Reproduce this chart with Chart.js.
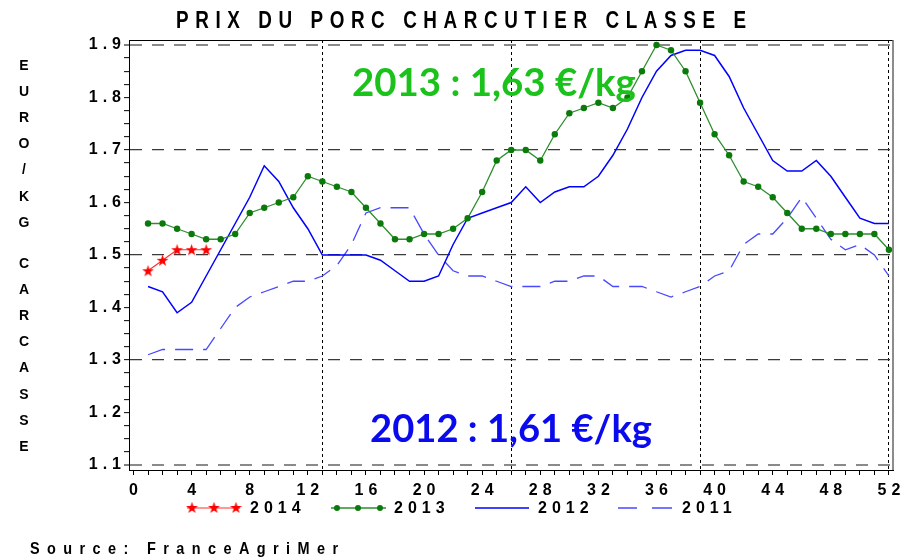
<!DOCTYPE html>
<html><head><meta charset="utf-8">
<script src="https://cdn.jsdelivr.net/npm/chart.js@4/dist/chart.umd.min.js"></script>
<style>html,body{margin:0;padding:0;background:#fff;overflow:hidden}#wrap{position:relative;width:905px;height:560px}</style>
</head><body><div id="wrap"><canvas id="c" width="905" height="560"></canvas></div>
<script>
// ---------- DATA ----------
const titleText = 'PRIX DU PORC CHARCUTIER CLASSE E';
const yAxisTitleTop = 'EURO/KG';
const yAxisTitleBottom = 'CARCASSE';
const sourceText = 'Source: FranceAgriMer';
const note2013 = '2013 : 1,63 €/kg';
const note2012 = '2012 : 1,61 €/kg';
const seriesNames = ['2014', '2013', '2012', '2011'];

const weeks = [1,2,3,4,5,6,7,8,9,10,11,12,13,14,15,16,17,18,19,20,21,22,23,24,25,26,
               27,28,29,30,31,32,33,34,35,36,37,38,39,40,41,42,43,44,45,46,47,48,49,50,51,52];
const weeks2014 = [1,2,3,4,5];
const v2014 = [1.47,1.49,1.51,1.51,1.51];
const v2013 = [1.56,1.56,1.55,1.54,1.53,1.53,1.54,1.58,1.59,1.60,1.61,1.65,1.64,1.63,1.62,1.59,1.56,1.53,1.53,1.54,
               1.54,1.55,1.57,1.62,1.68,1.70,1.70,1.68,1.73,1.77,1.78,1.79,1.78,1.80,1.85,1.90,1.89,1.85,1.79,1.73,
               1.69,1.64,1.63,1.61,1.58,1.55,1.55,1.54,1.54,1.54,1.54,1.51];
const v2012 = [1.44,1.43,1.39,1.41,1.46,1.51,1.56,1.61,1.67,1.64,1.59,1.55,1.50,1.50,1.50,1.50,1.49,1.47,1.45,1.45,
               1.46,1.52,1.57,1.58,1.59,1.60,1.63,1.60,1.62,1.63,1.63,1.65,1.69,1.74,1.80,1.85,1.88,1.89,1.89,1.88,
               1.84,1.78,1.73,1.68,1.66,1.66,1.68,1.65,1.61,1.57,1.56,1.56];
const v2011 = [1.31,1.32,1.32,1.32,1.32,1.36,1.40,1.42,1.43,1.44,1.45,1.45,1.46,1.48,1.52,1.58,1.59,1.59,1.59,1.54,
               1.50,1.47,1.46,1.46,1.45,1.44,1.44,1.44,1.45,1.45,1.46,1.46,1.44,1.44,1.44,1.43,1.42,1.43,1.44,1.46,
               1.47,1.52,1.54,1.54,1.57,1.61,1.57,1.53,1.51,1.52,1.50,1.46];
const xTickLabels = [0,4,8,12,16,20,24,28,32,36,40,44,48,52];
const xSeparators = [13,26,39,52];
const yTickLabels = [1.1,1.2,1.3,1.4,1.5,1.6,1.7,1.8,1.9];
const yGridValues = [1.1,1.3,1.5,1.7,1.9];

// ---------- STYLE HELPERS ----------
const LS = 5; // letter spacing for axis/legend text
const starImg = (() => {
  const c = document.createElement('canvas'); c.width = 13; c.height = 13;
  const g = c.getContext('2d'); g.fillStyle = '#ff0000'; g.beginPath();
  for (let i = 0; i < 10; i++) {
    const r = i % 2 ? 2.4 : 6.2, a = -Math.PI / 2 + i * Math.PI / 5;
    g.lineTo(6.5 + r * Math.cos(a), 7 + r * Math.sin(a));
  }
  g.closePath(); g.fill(); return c;
})();
const pts = (xs, ys) => xs.map((x, i) => ({x: x, y: ys[i]}));
const near = (a, b) => Math.abs(a - b) < 1e-6;

const colors = {
  s2014: '#ff3030', s2014pt: '#ff0000',
  s2013: '#2e8e2e', s2013pt: '#0b7a0b',
  s2012: '#0000ff', s2011: '#4848ff'
};

const textPlugin = {
  id: 'texts',
  beforeDraw(chart) { chart.ctx.letterSpacing = LS + 'px'; },
  afterDraw(chart) {
    const ctx = chart.ctx;
    ctx.save();
    ctx.letterSpacing = '0px';
    ctx.fillStyle = '#000';
    ctx.textBaseline = 'alphabetic';
    ctx.textAlign = 'left';
    function fitText(txt, x, y, width, font, color, sx) {
      ctx.save();
      ctx.font = font; ctx.letterSpacing = '0px';
      const w = ctx.measureText(txt).width;
      const sp = (width / sx - w) / (txt.length - 1);
      ctx.letterSpacing = sp + 'px';
      ctx.translate(x, y); ctx.scale(sx, 1);
      ctx.fillStyle = color; ctx.fillText(txt, 0, 0);
      ctx.restore();
    }
    function sizedText(txt, x, y, width, family, color) {
      ctx.letterSpacing = '0px';
      ctx.font = 'bold 40px ' + family;
      const w = ctx.measureText(txt).width;
      const fs = 40 * width / w;
      ctx.font = 'bold ' + fs.toFixed(2) + 'px ' + family;
      ctx.fillStyle = color; ctx.fillText(txt, x, y);
    }
    // title
    fitText(titleText, 176, 28, 570, 'bold 23px "Liberation Sans", Arial, sans-serif', '#000', 0.82);
    // vertical y axis title
    ctx.font = 'bold 14px "Liberation Sans", Arial, sans-serif';
    ctx.textAlign = 'center'; ctx.fillStyle = '#000';
    const step = 26.1;
    [...yAxisTitleTop].forEach((ch, i) => ctx.fillText(ch, 24, 70 + i * step));
    [...yAxisTitleBottom].forEach((ch, i) => ctx.fillText(ch, 24, 268 + i * step));
    ctx.textAlign = 'left';
    // source
    fitText(sourceText, 30, 554, 308, 'bold 17px "Liberation Sans", Arial, sans-serif', '#000', 0.85);
    // annotations
    sizedText(note2013, 352, 96, 284, 'Lato, "Open Sans", sans-serif', '#1cc21c');
    sizedText(note2012, 370, 442, 282, 'Lato, "Open Sans", sans-serif', '#0a0aee');
    // frame top & right
    const a = chart.chartArea;
    ctx.strokeStyle = '#000'; ctx.lineWidth = 1;
    ctx.beginPath(); ctx.moveTo(a.left, a.top + 0.5); ctx.lineTo(a.right, a.top + 0.5); ctx.stroke();
    ctx.strokeStyle = '#666'; ctx.lineWidth = 1.5;
    ctx.beginPath(); ctx.moveTo(a.right, a.top); ctx.lineTo(a.right, a.bottom); ctx.stroke();
    // legend
    const ly = 508;
    const ds = chart.data.datasets;
    ctx.font = 'bold 16px "Liberation Sans", Arial, sans-serif';
    ctx.textBaseline = 'middle';
    ctx.letterSpacing = LS + 'px';
    // 2014
    ctx.strokeStyle = ds[0].borderColor; ctx.lineWidth = 1.2; ctx.setLineDash([]);
    ctx.beginPath(); ctx.moveTo(187, ly); ctx.lineTo(240, ly); ctx.stroke();
    [192, 214, 236].forEach(x => ctx.drawImage(starImg, x - 6.5, ly - 7));
    ctx.fillStyle = '#000'; ctx.fillText(ds[0].label, 250, ly + 1);
    // 2013
    ctx.strokeStyle = ds[1].borderColor; ctx.lineWidth = 1.3;
    ctx.beginPath(); ctx.moveTo(331, ly); ctx.lineTo(386, ly); ctx.stroke();
    ctx.fillStyle = ds[1].pointBackgroundColor;
    [337, 358, 380].forEach(x => { ctx.beginPath(); ctx.arc(x, ly, 3, 0, Math.PI * 2); ctx.fill(); });
    ctx.fillStyle = '#000'; ctx.fillText(ds[1].label, 394, ly + 1);
    // 2012
    ctx.strokeStyle = ds[2].borderColor; ctx.lineWidth = 1.5;
    ctx.beginPath(); ctx.moveTo(475, ly); ctx.lineTo(529, ly); ctx.stroke();
    ctx.fillText(ds[2].label, 538, ly + 1);
    // 2011
    ctx.strokeStyle = ds[3].borderColor; ctx.lineWidth = 1.3;
    ctx.beginPath(); ctx.moveTo(618, ly); ctx.lineTo(637, ly); ctx.moveTo(652, ly); ctx.lineTo(672, ly); ctx.stroke();
    ctx.fillText(ds[3].label, 682, ly + 1);
    ctx.restore();
    ctx.letterSpacing = '0px';
  }
};

new Chart(document.getElementById('c'), {
  type: 'line',
  data: {
    datasets: [
      { label: seriesNames[0], data: pts(weeks2014, v2014), borderColor: colors.s2014, borderWidth: 1.2,
        pointStyle: starImg, pointRadius: 6, pointBackgroundColor: colors.s2014pt, tension: 0 },
      { label: seriesNames[1], data: pts(weeks, v2013), borderColor: colors.s2013, borderWidth: 1.3,
        pointStyle: 'circle', pointRadius: 3.2, pointBorderWidth: 0,
        pointBackgroundColor: colors.s2013pt, pointBorderColor: colors.s2013pt, tension: 0 },
      { label: seriesNames[2], data: pts(weeks, v2012), borderColor: colors.s2012, borderWidth: 1.5,
        pointRadius: 0, tension: 0 },
      { label: seriesNames[3], data: pts(weeks, v2011), borderColor: colors.s2011, borderWidth: 1.3,
        borderDash: [18, 10], pointRadius: 0, tension: 0 }
    ]
  },
  options: {
    responsive: false, animation: false, devicePixelRatio: 1,
    layout: { padding: { left: 0, top: 40, right: 12, bottom: 0 } },
    plugins: { legend: { display: false }, tooltip: { enabled: false }, title: { display: false } },
    scales: {
      x: {
        type: 'linear', min: -0.31, max: 52.28,
        afterBuildTicks: s => {
          const t = []; for (let w = xTickLabels[0]; w <= xTickLabels[xTickLabels.length - 1]; w++) t.push({value: w});
          s.ticks = t;
        },
        afterFit: s => { s.height = 90; },
        ticks: {
          autoSkip: false, maxRotation: 0, minRotation: 0, padding: 6, labelOffset: LS / 2,
          color: '#000', font: { family: '"Liberation Sans", Arial, sans-serif', size: 16, weight: 'bold' },
          callback: v => xTickLabels.includes(v) ? String(v) : ''
        },
        grid: {
          color: c => (c.tick && xSeparators.includes(c.tick.value)) ? '#000' : 'transparent',
          lineWidth: 1, tickColor: '#000', tickLength: 5, drawTicks: true
        },
        border: { display: true, color: '#000', width: 1, dash: [3, 3] }
      },
      y: {
        type: 'linear', min: 1.0905, max: 1.9095,
        afterBuildTicks: s => {
          const t = [];
          yTickLabels.forEach((v, i) => {
            t.push({value: v});
            if (i < yTickLabels.length - 1) for (let k = 1; k < 4; k++) t.push({value: v + k * 0.025});
          });
          s.ticks = t;
        },
        afterFit: s => { s.width = 129; },
        ticks: {
          autoSkip: false, padding: -2, color: '#000',
          font: { family: '"Liberation Sans", Arial, sans-serif', size: 16, weight: 'bold' },
          callback: v => { const m = yTickLabels.find(t => near(t, v)); return m !== undefined ? m.toFixed(1) : ''; }
        },
        grid: {
          color: c => {
            if (!c.tick) return 'transparent';
            const v = c.tick.value;
            if (!yGridValues.some(g => near(g, v))) return 'transparent';
            return (near(v, 1.9) || near(v, 1.1)) ? '#8a8a8a' : '#3a3a3a';
          },
          lineWidth: c => (c.tick && (near(c.tick.value, 1.9) || near(c.tick.value, 1.1))) ? 2 : 1.3,
          tickColor: '#000', tickLength: 5, tickWidth: 1, drawTicks: true
        },
        border: { display: true, color: '#000', width: 1, dash: [12, 10] }
      }
    }
  },
  plugins: [textPlugin]
});
</script>
</body></html>
